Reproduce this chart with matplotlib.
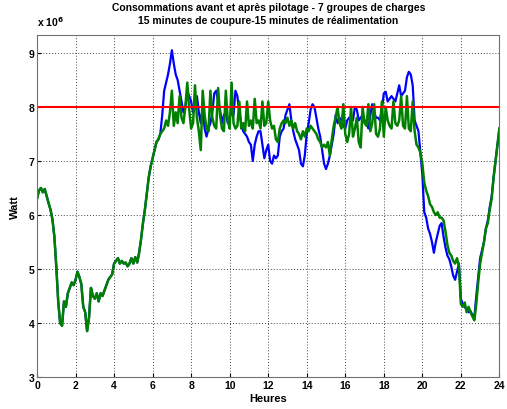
import numpy as np
import matplotlib
matplotlib.use("Agg")
import matplotlib.pyplot as plt

plt.rcParams['font.family'] = ['Liberation Sans', 'DejaVu Sans']
plt.rcParams['font.weight'] = 'bold'

# consommation (x 10^6 W), pas de 0.1 h
commun_debut = [6.3, 6.45, 6.5, 6.42, 6.48, 6.35, 6.22, 6.1, 5.92, 5.6,
                5.05, 4.4, 4.0, 3.95, 4.4, 4.3, 4.55, 4.65, 4.75, 4.7,
                4.8, 4.95, 4.85, 4.72, 4.3, 4.2, 3.85, 4.1, 4.65, 4.5,
                4.45, 4.55, 4.4, 4.55, 4.5, 4.6, 4.7, 4.8, 4.85, 4.9,
                5.1, 5.15, 5.2, 5.1, 5.15, 5.1, 5.12, 5.05, 5.1, 5.2,
                5.1, 5.22, 5.12, 5.3, 5.55, 5.85, 6.1, 6.4, 6.7, 6.9,
                7.05]

avant_suite = [7.2, 7.35, 7.4, 7.5, 7.85, 8.3, 8.45, 8.6, 8.8,
               9.05, 8.8, 8.6, 8.5, 8.3, 8.1, 7.9, 8.0, 8.3, 8.2,
               8.1, 7.9, 8.1, 8.2, 7.9, 7.7, 8.0, 7.6, 7.45, 7.6,
               7.7, 7.9, 8.25, 8.3, 8.1, 7.95, 7.7, 7.85, 7.9, 7.7,
               7.8, 7.9, 7.85, 8.3, 8.2, 7.9, 7.7, 7.55, 7.5, 7.45,
               7.35, 7.3, 7.0, 7.3, 7.45, 7.55, 7.55, 7.3, 7.05, 7.2,
               # 12h - 18h
               7.3, 7.0, 6.95, 7.1, 7.05, 7.1, 7.45, 7.55, 7.6, 7.85,
               7.95, 8.05, 7.75, 7.55, 7.4, 7.3, 7.2, 6.95, 6.9, 7.1,
               7.5, 7.7, 7.95, 8.05, 8.0, 7.8, 7.6, 7.45, 7.2, 6.95,
               6.85, 6.95, 7.1, 7.3, 7.5, 7.85, 7.7, 7.8, 7.75, 7.65,
               7.6, 7.75, 7.8, 7.8, 7.75, 8.0, 7.95, 7.75, 7.8, 7.85,
               7.75, 7.7, 7.6, 7.85, 8.05, 7.9, 7.8, 7.8, 7.75, 7.95,
               8.25,
               # 18h - 24h
               8.28, 8.1, 8.15, 8.2, 8.15, 8.1, 8.25, 8.4, 8.2, 8.25,
               8.3, 8.55, 8.65, 8.6, 8.4, 7.75, 7.65, 7.55, 7.15, 6.75,
               6.05, 5.95, 5.75, 5.65, 5.5, 5.3, 5.5, 5.65, 5.8, 5.85,
               5.6, 5.4, 5.25, 5.18, 5.05, 4.88, 4.8, 4.95, 5.1, 4.45,
               4.35, 4.3, 4.25, 4.2, 4.22, 4.15, 4.1, 4.5, 4.85, 5.2,
               5.35, 5.5, 5.75, 5.9, 6.15, 6.35, 6.7, 7.0, 7.3, 7.6]

apres_suite = [7.2, 7.35, 7.4, 7.5, 7.55, 7.6, 7.75, 7.65, 7.9,
               8.3, 7.65, 7.9, 7.7, 8.2, 7.8, 7.7, 8.0, 8.45, 7.95,
               7.6, 7.7, 8.4, 7.8, 7.55, 7.2, 8.3, 7.85, 7.6, 7.55,
               8.3, 7.8, 7.65, 7.6, 8.35, 7.85, 7.6, 7.55, 8.3, 7.75,
               7.6, 8.45, 7.7, 7.6, 7.65, 8.1, 7.6, 7.7, 7.55, 8.1,
               7.65, 7.75, 7.6, 8.15, 7.7, 7.75, 7.6, 8.1, 7.65, 7.7,
               # 12h - 18h
               8.1, 7.75, 7.6, 7.65, 7.4, 7.35, 7.6, 7.7, 7.75, 7.7,
               7.8, 7.65, 7.75, 7.6, 7.7, 7.55, 7.5, 7.4, 7.55, 7.45,
               7.6, 7.55, 7.65, 7.6, 7.55, 7.5, 7.4, 7.35, 7.25, 7.3,
               7.25, 7.35, 7.1, 7.4, 7.65, 7.8, 8.0, 7.7, 7.6, 8.05,
               7.5, 7.35, 7.5, 8.0, 7.45, 7.6, 7.8, 7.35, 7.25, 8.0,
               7.7, 7.65, 8.05, 7.55, 7.7, 8.05, 7.5, 7.45, 7.6, 8.1,
               7.45,
               # 18h - 24h
               8.0, 7.75, 7.65, 7.6, 8.1, 7.7, 7.65, 7.75, 8.2, 7.65,
               7.6, 8.2, 7.6, 7.55, 8.1, 7.55, 7.3, 7.25, 7.15, 6.95,
               6.6, 6.45, 6.35, 6.2, 6.15, 6.05, 6.0, 6.05, 5.95, 5.95,
               5.9, 5.7, 5.45, 5.3, 5.25, 5.15, 5.1, 5.2, 5.05, 4.35,
               4.3, 4.38, 4.2, 4.3, 4.2, 4.12, 4.05, 4.35, 4.75, 5.1,
               5.3, 5.5, 5.75, 5.85, 6.1, 6.3, 6.7, 7.0, 7.3, 7.6]

avant = np.array(commun_debut + avant_suite)
apres = np.array(commun_debut + apres_suite)
heures = np.linspace(0, 24, len(avant))
seuil = 8.0

fig = plt.figure(figsize=(5.07, 4.10), dpi=100)
ax = fig.add_axes([0.073, 0.078, 0.912, 0.834])

ax.plot(heures, avant, color='#0000ff', lw=1.6)
ax.plot(heures, apres, color='#008000', lw=1.8)
ax.axhline(seuil, color='#ff0000', lw=1.5)

ax.set_xlim(0, 24)
ax.set_ylim(3, 9.33)
ax.set_xticks(range(0, 25, 2))
ax.set_yticks(range(3, 10))
ax.grid(True, color='#444444', linestyle=(0, (1, 2)), lw=0.7)
ax.tick_params(direction='in', labelsize=7.5, length=3, pad=2)
for s in ax.spines.values():
    s.set_color('#707070')

ax.set_xlabel('Heures', fontsize=8, fontweight='bold', labelpad=2)
ax.set_ylabel('Watt', fontsize=8, fontweight='bold', labelpad=6)
ax.set_title('Consommations avant et après pilotage - 7 groupes de charges\n'
             '15 minutes de coupure-15 minutes de réalimentation',
             fontsize=7.5, fontweight='bold', pad=9, linespacing=1.3)
ax.text(0.0, 1.02, 'x 10$^6$', transform=ax.transAxes, fontsize=7.5,
        fontweight='bold', ha='left', va='bottom')

fig.savefig('out.png', dpi=100)
